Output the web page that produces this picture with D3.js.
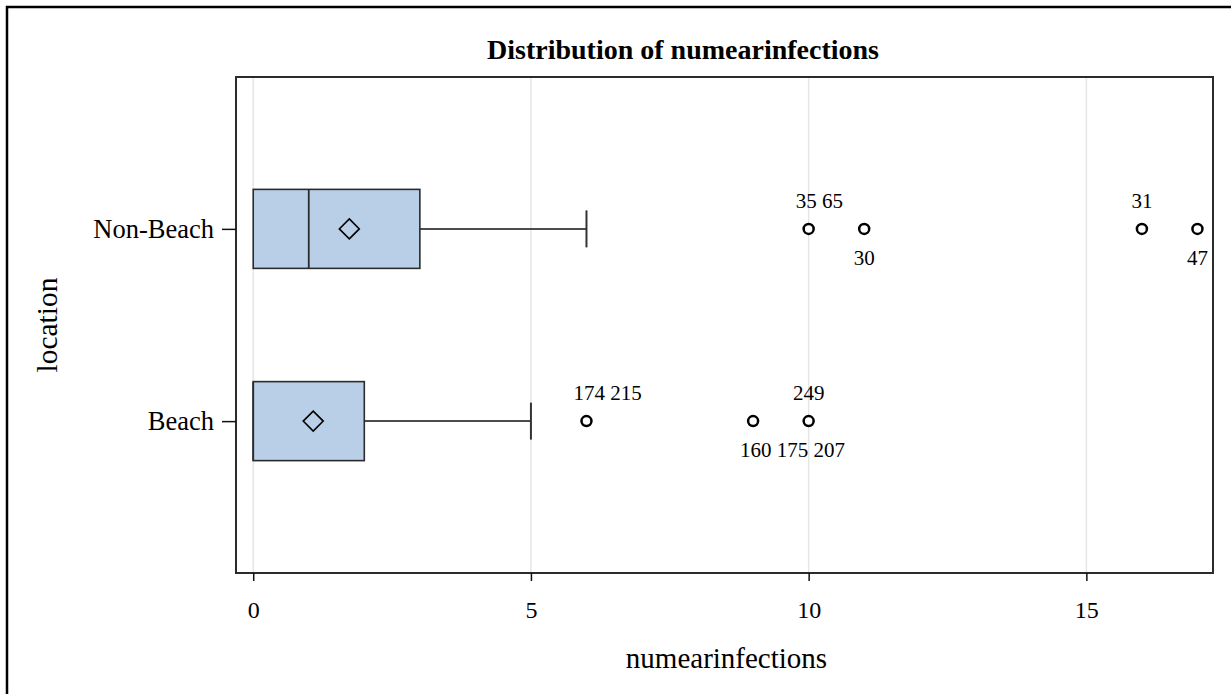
<!DOCTYPE html>
<html>
<head>
<meta charset="utf-8">
<script src="https://cdn.jsdelivr.net/npm/d3@7"></script>
<style>
  html, body { margin: 0; padding: 0; background: #fff; }
  svg { display: block; font-family: "Liberation Serif", "Times New Roman", serif; }
</style>
</head>
<body>
<svg id="chart" width="1231" height="694"></svg>
<script>
// data
const categories = ["Non-Beach", "Beach"];
const q1      = [0, 0];
const median  = [1, 0];
const q3      = [3, 2];
const whiskLo = [0, 0];
const whiskHi = [6, 5];
const means   = [1.73, 1.08];
const outliers = [
  { cat: "Non-Beach", value: 10, ids: "35 65", side: "above" },
  { cat: "Non-Beach", value: 11, ids: "30", side: "below" },
  { cat: "Non-Beach", value: 16, ids: "31", side: "above" },
  { cat: "Non-Beach", value: 17, ids: "47", side: "below" },
  { cat: "Beach", value: 6, ids: "174 215", side: "above" },
  { cat: "Beach", value: 9, ids: "160 175 207", side: "below" },
  { cat: "Beach", value: 10, ids: "249", side: "above" }
];
const xTicks = [0, 5, 10, 15];

const W = 1231, H = 694;
const FONT = '"Liberation Serif", "Times New Roman", serif';
const frame = { left: 236, top: 77, right: 1213, bottom: 573 };

const svg = d3.select("#chart");

// outer graph border (runs past the right/bottom edge)
svg.append("rect")
  .attr("x", 7).attr("y", 7)
  .attr("width", W + 20).attr("height", H + 20)
  .attr("fill", "none").attr("stroke", "#000").attr("stroke-width", 2.5);

const x = d3.scaleLinear()
  .domain([-0.31, 17.28])
  .range([frame.left, frame.right]);
const y = d3.scalePoint()
  .domain(categories)
  .range([frame.top, frame.bottom])
  .padding(0.79);

// gridlines
svg.append("g").selectAll("line").data(xTicks).join("line")
  .attr("x1", d => x(d)).attr("x2", d => x(d))
  .attr("y1", frame.top).attr("y2", frame.bottom)
  .attr("stroke", "#e6e6e6").attr("stroke-width", 1.5);

const boxH = 79, capH = 37;
const rows = categories.map((c, i) => ({
  cat: c, q1: q1[i], med: median[i], q3: q3[i], lo: whiskLo[i], hi: whiskHi[i], mean: means[i]
}));

const g = svg.append("g");
// whiskers
g.selectAll("line.whisk").data(rows).join("line").attr("class", "whisk")
  .attr("x1", d => x(d.q3)).attr("x2", d => x(d.hi))
  .attr("y1", d => y(d.cat)).attr("y2", d => y(d.cat))
  .attr("stroke", "#111").attr("stroke-width", 1.5);
g.selectAll("line.cap").data(rows).join("line").attr("class", "cap")
  .attr("x1", d => x(d.hi)).attr("x2", d => x(d.hi))
  .attr("y1", d => y(d.cat) - capH / 2).attr("y2", d => y(d.cat) + capH / 2)
  .attr("stroke", "#333").attr("stroke-width", 2);
// boxes
g.selectAll("rect.box").data(rows).join("rect").attr("class", "box")
  .attr("x", d => x(d.q1)).attr("width", d => x(d.q3) - x(d.q1))
  .attr("y", d => y(d.cat) - boxH / 2).attr("height", boxH)
  .attr("fill", "#b9cfe8").attr("stroke", "#2b2b2b").attr("stroke-width", 1.6);
g.selectAll("line.med").data(rows).join("line").attr("class", "med")
  .attr("x1", d => x(d.med)).attr("x2", d => x(d.med))
  .attr("y1", d => y(d.cat) - boxH / 2).attr("y2", d => y(d.cat) + boxH / 2)
  .attr("stroke", "#2b2b2b").attr("stroke-width", 1.8);
// mean diamonds
const dr = 10;
g.selectAll("path.mean").data(rows).join("path").attr("class", "mean")
  .attr("transform", d => `translate(${x(d.mean)},${y(d.cat)})`)
  .attr("d", `M0,${-dr}L${dr},0L0,${dr}L${-dr},0Z`)
  .attr("fill", "none").attr("stroke", "#000").attr("stroke-width", 1.6);

// outliers
g.selectAll("circle.out").data(outliers).join("circle").attr("class", "out")
  .attr("cx", d => x(d.value)).attr("cy", d => y(d.cat)).attr("r", 5)
  .attr("fill", "#fff").attr("stroke", "#000").attr("stroke-width", 2.5);
g.selectAll("text.out").data(outliers).join("text").attr("class", "out")
  .attr("x", d => d.ids.includes(" ") ? x(d.value) - 13 : x(d.value))
  .attr("y", d => y(d.cat) + (d.side === "above" ? -21 : 36))
  .attr("text-anchor", d => d.ids.includes(" ") ? "start" : "middle")
  .attr("font-size", 21).attr("fill", "#000")
  .text(d => d.ids);

// frame
svg.append("rect")
  .attr("x", frame.left).attr("y", frame.top)
  .attr("width", frame.right - frame.left).attr("height", frame.bottom - frame.top)
  .attr("fill", "none").attr("stroke", "#2b2b2b").attr("stroke-width", 2);

// x axis
const xAxis = svg.append("g")
  .attr("transform", `translate(0,${frame.bottom})`)
  .call(d3.axisBottom(x).tickValues(xTicks).tickSize(8).tickPadding(20).tickFormat(d3.format("d")))
  .attr("font-family", FONT).attr("font-size", 24);
xAxis.select(".domain").remove();
xAxis.selectAll(".tick line").attr("stroke", "#111").attr("stroke-width", 1.5);
xAxis.selectAll(".tick text").attr("fill", "#000");

// y axis
const yAxis = svg.append("g")
  .attr("transform", `translate(${frame.left},0)`)
  .call(d3.axisLeft(y).tickSize(14).tickPadding(8))
  .attr("font-family", FONT).attr("font-size", 26.5);
yAxis.select(".domain").remove();
yAxis.selectAll(".tick line").attr("stroke", "#111").attr("stroke-width", 1.5);
yAxis.selectAll(".tick text").attr("fill", "#000").attr("dy", "0.33em");

// titles
svg.append("text")
  .attr("x", 683).attr("y", 59).attr("text-anchor", "middle")
  .attr("font-size", 28).attr("font-weight", "bold")
  .text("Distribution of numearinfections");
svg.append("text")
  .attr("x", (frame.left + frame.right) / 2 + 2).attr("y", 668).attr("text-anchor", "middle")
  .attr("font-size", 29)
  .text("numearinfections");
svg.append("text")
  .attr("transform", `translate(57,${(frame.top + frame.bottom) / 2}) rotate(-90)`)
  .attr("text-anchor", "middle")
  .attr("font-size", 29.5)
  .text("location");
</script>
</body>
</html>
